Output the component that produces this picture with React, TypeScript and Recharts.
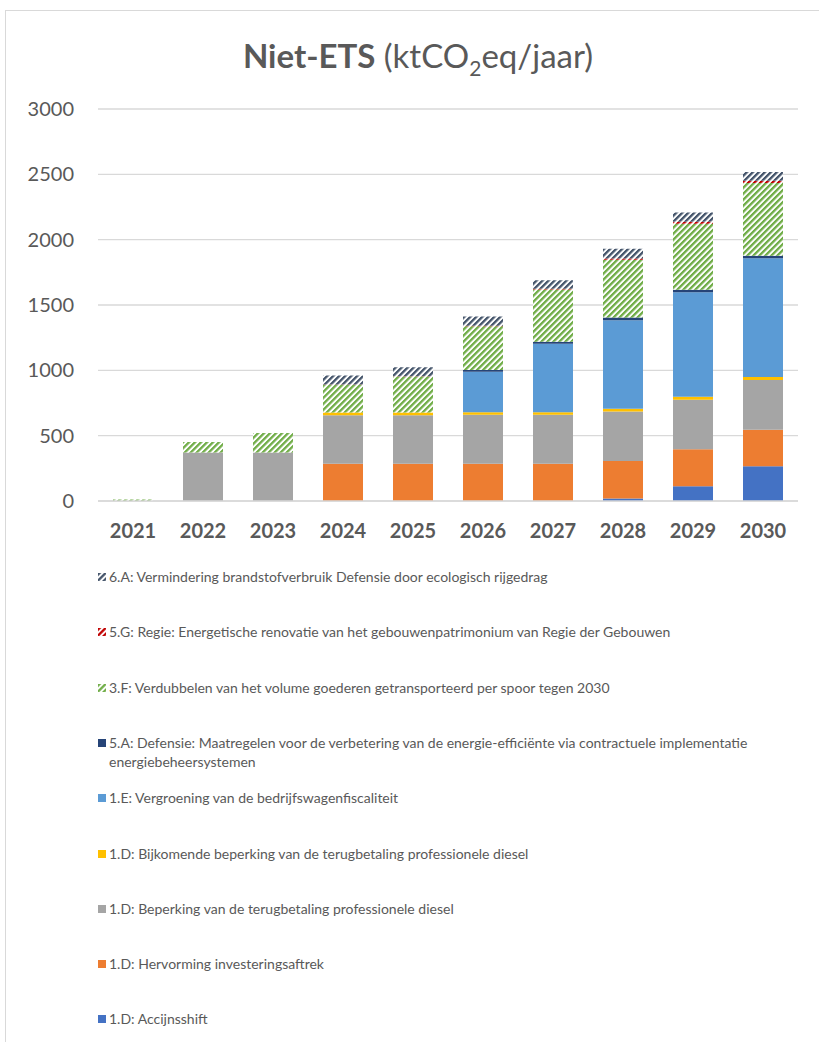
import { BarChart, Bar, XAxis, YAxis, CartesianGrid } from 'recharts'

const TEXT = '#595959'
const GRID = '#D9D9D9'
const FONT = 'Lato, "Noto Sans", sans-serif'

const years = ['2021', '2022', '2023', '2024', '2025', '2026', '2027', '2028', '2029', '2030']
const yTicks = [0, 500, 1000, 1500, 2000, 2500, 3000]

// values per measure, ktCO2eq/jaar
const accijnsshift = [0, 0, 0, 0, 0, 0, 0, 20, 112, 265]
const hervorming = [0, 0, 0, 285, 285, 285, 285, 286, 284, 281]
const beperking = [0, 372, 372, 372, 372, 375, 375, 378, 379, 380]
const bijkomende = [0, 0, 0, 20, 20, 20, 20, 22, 23, 23]
const vergroening = [0, 0, 0, 0, 0, 310, 524, 678, 799, 908]
const defensie = [0, 0, 0, 0, 0, 13, 15, 20, 20, 20]
const spoor = [12, 79, 148, 212, 275, 334, 400, 442, 505, 557]
const regie = [0, 0, 0, 3, 3, 5, 5, 10, 15, 17]
const rijgedrag = [0, 0, 0, 69, 69, 70, 65, 75, 70, 67]

interface Series {
  key: string
  label: string
  color: string
  hatch?: boolean
  values: number[]
}

const series: Series[] = [
  { key: 'accijns', label: '1.D: Accijnsshift', color: '#4472C4', values: accijnsshift },
  { key: 'hervorming', label: '1.D: Hervorming investeringsaftrek', color: '#ED7D31', values: hervorming },
  { key: 'beperking', label: '1.D: Beperking van de terugbetaling professionele diesel', color: '#A5A5A5', values: beperking },
  { key: 'bijkomende', label: '1.D: Bijkomende beperking van de terugbetaling professionele diesel', color: '#FFC000', values: bijkomende },
  { key: 'vergroening', label: '1.E: Vergroening van de bedrijfswagenfiscaliteit', color: '#5B9BD5', values: vergroening },
  {
    key: 'defensie',
    label: '5.A: Defensie: Maatregelen voor de verbetering van de energie-efficiënte via contractuele implementatie energiebeheersystemen',
    color: '#264478',
    values: defensie,
  },
  { key: 'spoor', label: '3.F: Verdubbelen van het volume goederen getransporteerd per spoor tegen 2030', color: '#70AD47', hatch: true, values: spoor },
  { key: 'regie', label: '5.G: Regie: Energetische renovatie van het gebouwenpatrimonium van Regie der Gebouwen', color: '#C00000', hatch: true, values: regie },
  { key: 'rijgedrag', label: '6.A: Vermindering brandstofverbruik Defensie door ecologisch rijgedrag', color: '#44546A', hatch: true, values: rijgedrag },
]

const data = years.map((year, i) => {
  const row: Record<string, string | number> = { year }
  series.forEach((s) => {
    row[s.key] = s.values[i]
  })
  return row
})

function HatchPattern({ id, color }: { id: string; color: string }) {
  return (
    <pattern id={id} patternUnits="userSpaceOnUse" width={4.24} height={10} patternTransform="rotate(45)">
      <rect x={0} y={0} width={4.24} height={10} fill="#fff" />
      <rect x={0} y={0} width={2.3} height={10} fill={color} />
    </pattern>
  )
}

function fillFor(s: Series, prefix: string) {
  return s.hatch ? `url(#${prefix}-${s.key})` : s.color
}

function Title() {
  return (
    <svg width={819} height={100} style={{ position: 'absolute', left: 0, top: 0 }}>
      <text x={418} y={68} textAnchor="middle" fill={TEXT} style={{ fontFamily: FONT, fontSize: 33 }}>
        <tspan fontWeight={700}>Niet-ETS</tspan>
        <tspan> (ktCO</tspan>
        <tspan fontSize={21} dy={8}>2</tspan>
        <tspan dy={-8}>eq/jaar)</tspan>
      </text>
    </svg>
  )
}

function LegendBlock() {
  const items = [...series].reverse()
  return (
    <div style={{ position: 'absolute', left: 0, top: 567, width: 819, fontFamily: FONT, fontSize: 14, color: TEXT }}>
      {items.map((s, i) => (
        <div
          key={s.key}
          style={{ position: 'absolute', left: 98, top: i * 55.3, width: 690, display: 'flex', alignItems: 'flex-start', lineHeight: '19px' }}
        >
          <svg width={8} height={8} style={{ marginTop: 6, marginRight: 3, flexShrink: 0 }}>
            <defs>
              <HatchPattern id={`lg-${s.key}`} color={s.color} />
            </defs>
            <rect x={0} y={0} width={8} height={8} fill={fillFor(s, 'lg')} />
          </svg>
          <span>{s.label}</span>
        </div>
      ))}
    </div>
  )
}

export default function App() {
  return (
    <div style={{ position: 'absolute', left: 0, top: 0, width: 819, height: 1042, background: '#fff', overflow: 'hidden' }}>
      <div style={{ position: 'absolute', left: 5, top: 10, width: 830, height: 1040, borderTop: `1px solid ${GRID}`, borderLeft: `1px solid ${GRID}` }} />
      <Title />
      <div style={{ position: 'absolute', left: 0, top: 0 }}>
        <BarChart width={819} height={541} data={data} margin={{ top: 109, right: 21, bottom: 0, left: 0 }} barCategoryGap={15}>
          <defs>
            {series
              .filter((s) => s.hatch)
              .map((s) => (
                <HatchPattern key={s.key} id={`bar-${s.key}`} color={s.color} />
              ))}
          </defs>
          <CartesianGrid vertical={false} stroke={GRID} strokeWidth={1.3} />
          <XAxis
            dataKey="year"
            height={40}
            tickLine={false}
            tickSize={0}
            tickMargin={23}
            axisLine={{ stroke: GRID, strokeWidth: 1.3 }}
            tick={{ fill: TEXT, fontSize: 20, fontWeight: 700, fontFamily: FONT }}
          />
          <YAxis
            width={98}
            domain={[0, 3000]}
            ticks={yTicks}
            axisLine={false}
            tickLine={false}
            tickSize={0}
            tickMargin={24}
            tick={{ fill: TEXT, fontSize: 20, fontFamily: FONT }}
          />
          {series.map((s) => (
            <Bar key={s.key} dataKey={s.key} stackId="a" fill={fillFor(s, 'bar')} isAnimationActive={false} />
          ))}
        </BarChart>
      </div>
      <LegendBlock />
    </div>
  )
}
